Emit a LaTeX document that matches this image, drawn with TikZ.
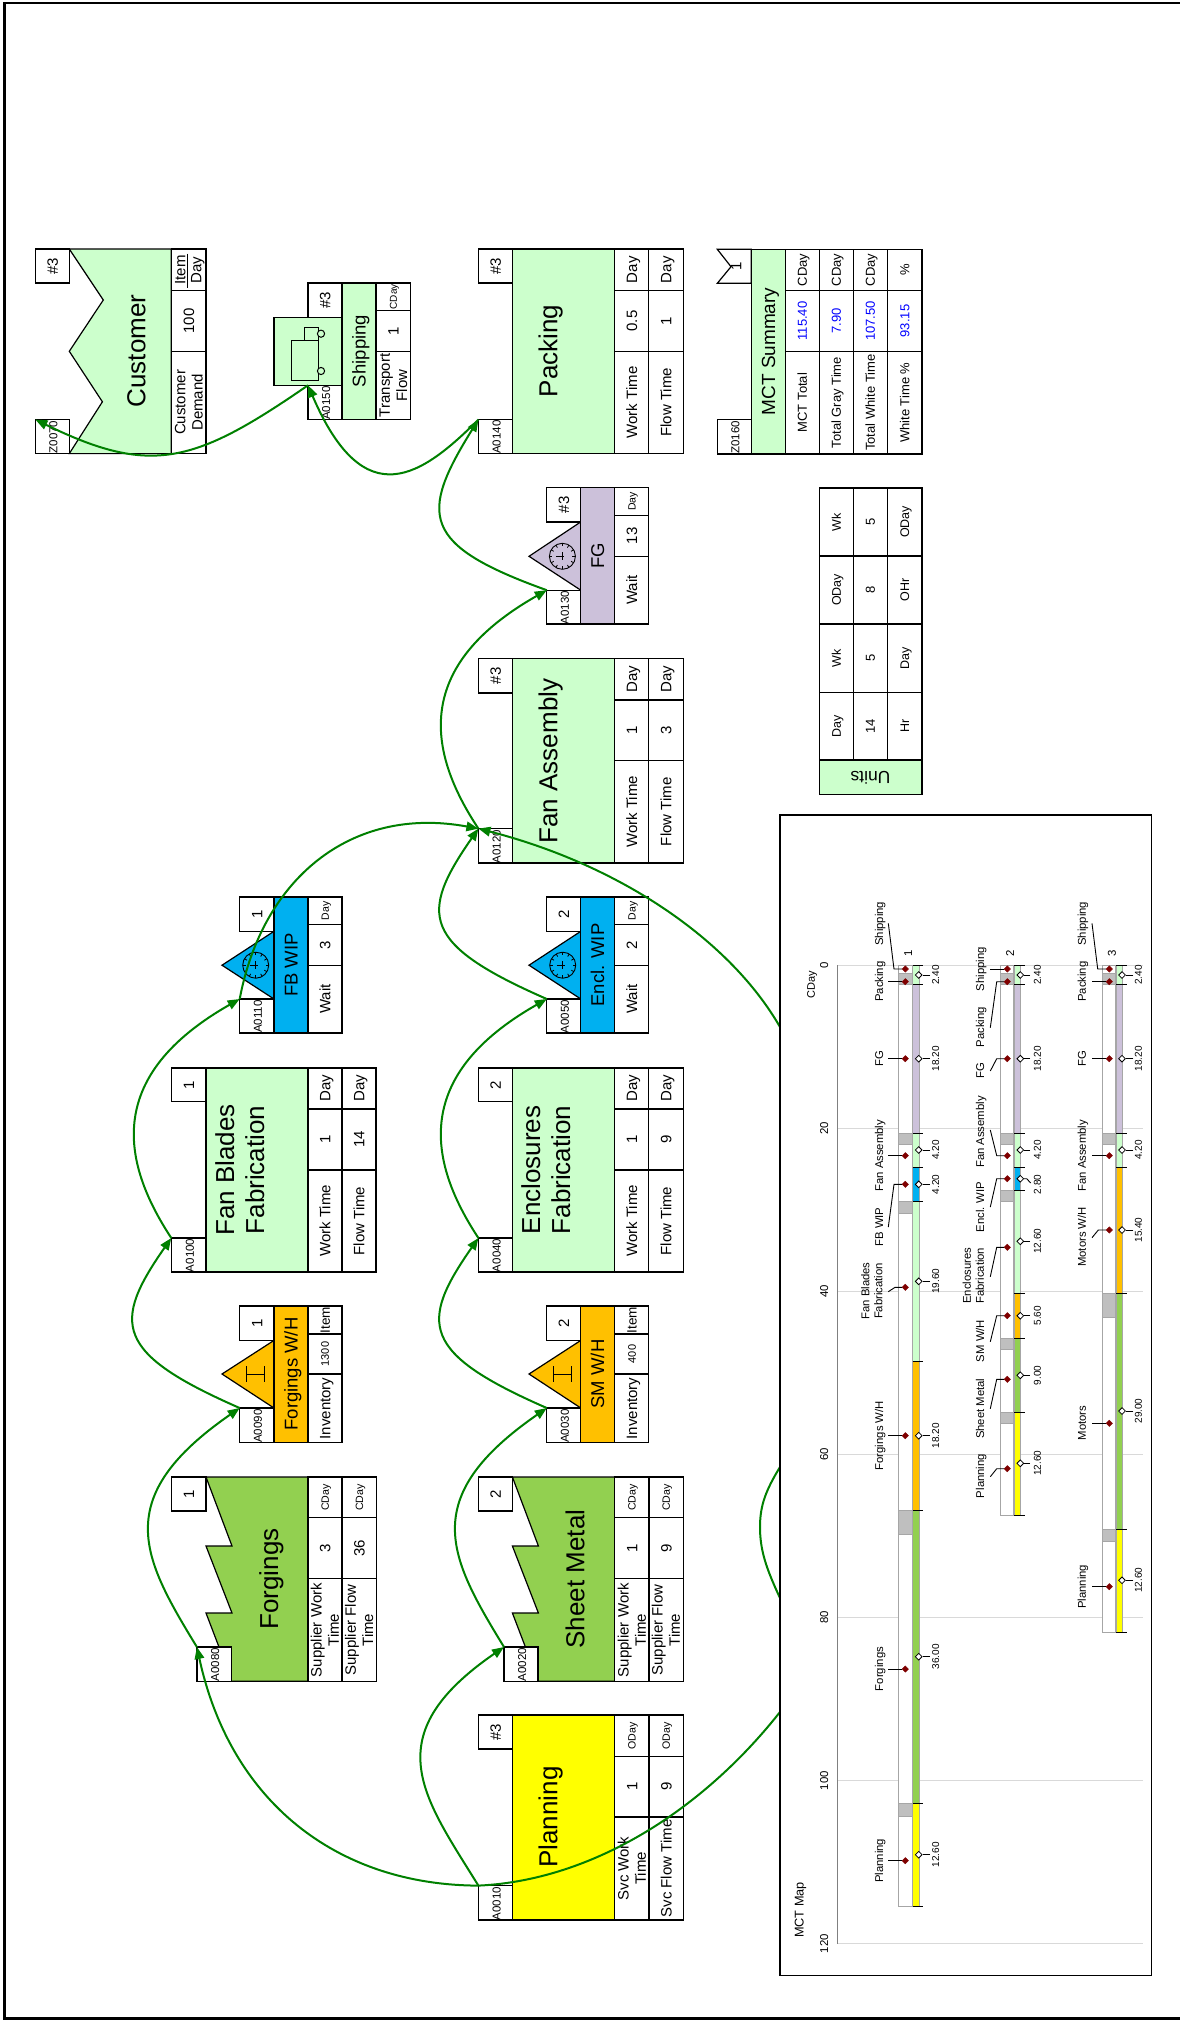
\documentclass[tikz,border=0pt]{standalone}
\usepackage{fontspec}
\setmainfont{Liberation Sans}
\usetikzlibrary{arrows.meta,shapes.geometric}
\definecolor{pgreen}{HTML}{CCFFCC}
\definecolor{fgreen}{HTML}{92D050}
\definecolor{mauve}{HTML}{CCC1DA}
\definecolor{wipblue}{HTML}{00B0F0}
\definecolor{whorange}{HTML}{FFC000}
\definecolor{planyellow}{HTML}{FFFF00}
\definecolor{flowgreen}{HTML}{008000}
\definecolor{dkred}{HTML}{7F0000}
\definecolor{gapgray}{HTML}{BFBFBF}
\definecolor{gridgray}{HTML}{D9D9D9}
\newcount\tc
\newcommand\Tick{\global\advance\tc by 1\relax}
\newcommand\Txt[5][]{\Tick\pgfmathsetmacro\hh{#4*0.72}\pgfmathsetmacro\ls{#4*1.15}%
  \node[rotate=90,inner sep=0pt,outer sep=0pt,text height=\hh pt,text depth=0pt,font=\fontsize{#4}{\ls}\selectfont,#1] (t\the\tc) at (#2,#3) {#5};}
\newcommand\Two[2]{\begin{tabular}[c]{@{}c@{}}#1\\#2\end{tabular}}
\newcommand\BoxN[6]{\pgfmathsetmacro\ww{#4-#2}\pgfmathsetmacro\hh{#5-#3}%
  \node[vbox,minimum width=\ww pt,minimum height=\hh pt,fill=#6] (#1) at ({(#2+#4)/2},{(#3+#5)/2}) {};}
\newcommand\Cell[6]{\Tick\BoxN{c\the\tc}{#1}{#2}{#3}{#4}{white}\Txt{{(#1+#3)/2}}{{(#2+#4)/2}}{#5}{#6}}
\newcommand\IdB[6]{\BoxN{#1}{#2}{#3}{#4}{#5}{white}\Txt{{(#2+#4)/2+1}}{{#5-16.5}}{11.5}{#6}}
\newcommand\Body[5]{\Tick\BoxN{b\the\tc}{#1}{#2}{#3}{#4}{#5}}
\newcommand\Tab[9]{\Cell{#1}{#3}{#2}{#4}{\sC}{#7}\Cell{#1}{#4}{#2}{#5}{\sB}{#8}\Cell{#1}{#5}{#2}{#6}{\sA}{#9}}
\newcommand\Tri[6]{\draw[shapeln,fill=#6] (#2,#4) -- (#1,#3) -- (#2,#5) -- cycle;}
\newcommand\Clock[2]{\draw[line width=.9pt] (#1,#2) circle[radius=13];
  \foreach \a in {0,30,...,330} {\draw[line width=.8pt] ([shift={(\a:13)}]#1,#2) -- ([shift={(\a:10)}]#1,#2);}
  \draw[line width=.9pt] ({#1-6},#2) -- ({#1+2},#2) (#1,{#2-4}) -- (#1,{#2+4});}
\newcommand\Beam[2]{\draw[line width=1pt] ({#1-9},#2) -- ({#1+9},#2) ({#1-9},{#2-8}) -- ({#1-9},{#2+8}) ({#1+9},{#2-8}) -- ({#1+9},{#2+8});}
\newcommand\DarkM[8]{\Tick\coordinate (e\the\tc) at (#4,#5);\coordinate (k\the\tc) at (#3,#2);
  \node[dkmark] (m\the\tc) at (#1,#2) {};\draw[leader] (e\the\tc) -- (k\the\tc) -- (m\the\tc);\Txt{#7}{#8}{11.3}{#6}}
\newcommand\WhiteM[8]{\Tick\coordinate (e\the\tc) at (#4,#5);\coordinate (k\the\tc) at (#3,#2);
  \node[whmark] (m\the\tc) at (#1,#2) {};\draw[leader] (e\the\tc) -- (k\the\tc) -- (m\the\tc);\Txt{#7}{#8}{10}{#6}}
\newcommand\YY[1]{{965+8.16*#1}}
\newcommand\Seg[5]{\draw[line width=1pt,draw=gray!70,fill=#5] (#1,\YY{#3}) rectangle (#2,\YY{#4});}
\begin{document}
\begin{tikzpicture}[x=1pt,y=-1pt,
  vbox/.style={draw=black,rectangle,inner sep=0pt,outer sep=0pt,line width=1.2pt},
  shapeln/.style={draw=black,line width=1.2pt,line join=miter},
  flowln/.style={draw=flowgreen,line width=2pt,-{Triangle[length=12pt,width=9.5pt]}},
  leader/.style={draw=black,line width=.9pt},
  dkmark/.style={diamond,draw=dkred,fill=dkred,minimum size=6.5pt,inner sep=0pt,line width=.4pt},
  whmark/.style={diamond,draw=black,fill=white,minimum size=7pt,inner sep=0pt,line width=.8pt}]
\useasboundingbox (0,0) rectangle (1180,2023);
\def\sA{15}\def\sB{15}\def\sC{15}
% frame
\draw[line width=2.6pt] (1190,3) -- (4.5,3) -- (4.5,2018.7) -- (1190,2018.7);
% ---------- Customer
\draw[shapeln,fill=pgreen] (69.3,249) -- (103.3,300) -- (69.3,351.3) -- (102.4,401.8) -- (69.3,453.6) -- (171.3,453.6) -- (171.3,249) -- cycle;
\Cell{35.4}{249}{69.3}{283}{15}{\#3}
\IdB{z0070}{35.4}{419.6}{69.3}{453.6}{Z0070}
\Txt{136}{351}{26}{Customer}
\Tab{171.3}{206}{249}{290.6}{351.3}{453.6}{}{100}{\Two{Customer}{Demand}}
\Txt{180}{270}{15}{Item}\Txt{196}{270}{15}{Day}
\coordinate (fa) at (187.8,253.6);\coordinate (fb) at (187.8,288);\draw[line width=1.2pt] (fa) -- (fb);
% ---------- Shipping
\Cell{308}{283}{342}{317.4}{15}{\#3}
\IdB{a0150}{308}{385.3}{342}{419.6}{A0150}
\Body{274}{317.4}{342}{385.3}{pgreen}
\draw[line width=1pt] (291.7,340.5) rectangle (318.7,380) (304.3,327.3) rectangle (318.7,340.5);
\draw[line width=1pt,fill=pgreen] (321,333.7) circle[radius=3.6] (321,371) circle[radius=3.6];
\Body{342}{283}{376}{419.6}{pgreen}
\Txt{359}{351}{18.5}{Shipping}
\def\sC{10}
\Tab{376}{410.5}{283}{310.7}{351.3}{419.6}{CDay}{1}{\Two{Transport}{Flow}}
\def\sC{15}
% ---------- Packing
\Body{512.4}{249}{614.8}{453.6}{pgreen}
\Cell{478.4}{249}{512.4}{283}{15}{\#3}
\IdB{a0140}{478.4}{419.6}{512.4}{453.6}{A0140}
\Txt{548}{351}{26}{Packing}
\Tab{614.8}{648.8}{249}{290.6}{351.3}{453.6}{Day}{0.5}{Work Time}
\Tab{648.8}{683.2}{249}{290.6}{351.3}{453.6}{Day}{1}{Flow Time}
% ---------- FG
\Tri{529}{580.8}{556.3}{521.9}{590.2}{mauve}
\Clock{562.4}{556.3}
\Cell{546.8}{487.5}{580.8}{521.9}{15}{\#3}
\IdB{a0130}{546.8}{590.2}{580.8}{624}{A0130}
\Body{580.8}{487.5}{614.8}{624}{mauve}
\Txt{597.5}{556}{18.5}{FG}
\def\sC{10.5}
\Tab{614.8}{648.8}{487.5}{515.6}{556.3}{624}{Day}{13}{Wait}
% ---------- Fan Assembly
\def\sC{15}
\Body{512.4}{658.5}{614.8}{863}{pgreen}
\Cell{478.4}{658.5}{512.4}{692.9}{15}{\#3}
\IdB{a0120}{478.4}{828.6}{512.4}{863}{A0120}
\Txt{548}{761}{26}{Fan Assembly}
\Tab{614.8}{648.8}{658.5}{700}{760.5}{863}{Day}{1}{Work Time}
\Tab{648.8}{683.2}{658.5}{700}{760.5}{863}{Day}{3}{Flow Time}
% ---------- FB WIP
\Tri{222}{274}{965.2}{931.3}{999}{wipblue}
\Clock{255.7}{965.2}
\Cell{239.7}{896.9}{274}{931.3}{15}{1}
\IdB{a0110}{239.7}{999}{274}{1033}{A0110}
\Body{274}{896.9}{308}{1033}{wipblue}
\Txt{291}{965}{18.5}{FB WIP}
\def\sC{10.5}
\Tab{308}{342}{896.9}{924.6}{965.2}{1033}{Day}{3}{Wait}
% ---------- Encl WIP
\Tri{529}{580.8}{965.2}{931.3}{999}{wipblue}
\Clock{562.7}{965.2}
\Cell{546.8}{896.9}{580.8}{931.3}{15}{2}
\IdB{a0050}{546.8}{999}{580.8}{1033}{A0050}
\Body{580.8}{896.9}{614.8}{1033}{wipblue}
\Txt{597.5}{965}{18.5}{Encl. WIP}
\Tab{614.8}{648.8}{896.9}{924.6}{965.2}{1033}{Day}{2}{Wait}
\def\sC{15}
% ---------- Fan Blades Fabrication
\Body{206}{1067.9}{308}{1271.9}{pgreen}
\Cell{171.3}{1067.9}{206}{1101.8}{15}{1}
\IdB{a0100}{171.3}{1238}{206}{1271.9}{A0100}
\Txt{240}{1170}{26}{\Two{Fan Blades}{Fabrication}}
\Tab{308}{342}{1067.9}{1109}{1170}{1271.9}{Day}{1}{Work Time}
\Tab{342}{376}{1067.9}{1109}{1170}{1271.9}{Day}{14}{Flow Time}
% ---------- Enclosures Fabrication
\Body{512.4}{1067.9}{614.8}{1271.9}{pgreen}
\Cell{478.4}{1067.9}{512.4}{1101.8}{15}{2}
\IdB{a0040}{478.4}{1238}{512.4}{1271.9}{A0040}
\Txt{546}{1170}{26}{\Two{Enclosures}{Fabrication}}
\Tab{614.8}{648.8}{1067.9}{1109}{1170}{1271.9}{Day}{1}{Work Time}
\Tab{648.8}{683.2}{1067.9}{1109}{1170}{1271.9}{Day}{9}{Flow Time}
% ---------- Forgings W/H
\Tri{222}{274}{1374}{1340.4}{1408}{whorange}
\Beam{255}{1374}
\Cell{239.7}{1306}{274}{1340.4}{15}{1}
\IdB{a0090}{239.7}{1408}{274}{1442.7}{A0090}
\Body{274}{1306}{308}{1442.7}{whorange}
\Txt{291}{1374}{18.5}{Forgings W/H}
\def\sB{11}\def\sC{13.5}
\Tab{308}{342}{1306}{1334}{1374}{1442.7}{Item}{1300}{Inventory}
% ---------- SM W/H
\Tri{529}{580.8}{1374}{1340.4}{1408}{whorange}
\Beam{562}{1374}
\Cell{546.8}{1306}{580.8}{1340.4}{15}{2}
\IdB{a0030}{546.8}{1408}{580.8}{1442.7}{A0030}
\Body{580.8}{1306}{614.8}{1442.7}{whorange}
\Txt{597.5}{1374}{18.5}{SM W/H}
\Tab{614.8}{648.8}{1306}{1334}{1374}{1442.7}{Item}{400}{Inventory}
\def\sB{15}\def\sC{10.6}
% ---------- Forgings
\draw[shapeln,fill=fgreen] (206,1477) -- (232,1546) -- (206,1546) -- (232,1613) -- (206,1613) -- (219,1647) -- (231.3,1647) -- (231.3,1681.3) -- (308,1681.3) -- (308,1477) -- cycle;
\Cell{171.6}{1477}{206}{1511}{15}{1}
\IdB{a0080}{196.9}{1647}{231.3}{1681.3}{A0080}
\Txt{268.7}{1579}{26}{Forgings}
\Tab{308}{342}{1477}{1517.8}{1578.8}{1681.3}{CDay}{3}{\Two{Supplier Work}{Time}}
\Tab{342}{376.4}{1477}{1517.8}{1578.8}{1681.3}{CDay}{36}{\Two{Supplier Flow}{Time}}
% ---------- Sheet Metal
\draw[shapeln,fill=fgreen] (512.4,1477) -- (538.4,1546) -- (512.4,1546) -- (538.4,1613) -- (512.4,1613) -- (525.4,1647) -- (538,1647) -- (538,1681.3) -- (614.8,1681.3) -- (614.8,1477) -- cycle;
\Cell{478.4}{1477}{512.4}{1511}{15}{2}
\IdB{a0020}{504}{1647}{538}{1681.3}{A0020}
\Txt{575}{1579}{26}{Sheet Metal}
\Tab{614.8}{649}{1477}{1517.8}{1578.8}{1681.3}{CDay}{1}{\Two{Supplier Work}{Time}}
\Tab{649}{683.2}{1477}{1517.8}{1578.8}{1681.3}{CDay}{9}{\Two{Supplier Flow}{Time}}
% ---------- Planning
\Body{512.4}{1715}{614.8}{1920}{planyellow}
\Cell{478.4}{1715}{512.4}{1749}{15}{\#3}
\IdB{a0010}{478.4}{1885.6}{512.4}{1920}{A0010}
\Txt{548}{1817}{26}{Planning}
\Tab{614.8}{649}{1715}{1756.4}{1817}{1920}{ODay}{1}{\Two{Svc Work}{Time}}
\Tab{649}{683.2}{1715}{1756.4}{1817}{1920}{ODay}{9}{Svc Flow Time}
\def\sC{15}
% ---------- flows
\draw[flowln] (a0010.north west) .. controls (423,1796) and (375,1736) .. (a0020.north west);
\draw[flowln] (a0010.north west) .. controls (335,1885) and (230,1800) .. (a0080.north west);
\draw[flowln] (a0020.north west) .. controls (449,1557) and (417,1498) .. (a0030.north west);
\draw[flowln] (a0080.north west) .. controls (142,1557) and (110,1498) .. (a0090.north west);
\draw[flowln] (a0030.north west) .. controls (421,1353) and (419,1323) .. (a0040.north west);
\draw[flowln] (a0090.north west) .. controls (114,1353) and (112,1323) .. (a0100.north west);
\draw[flowln] (a0040.north west) .. controls (427,1160) and (413,1075) .. (a0050.north west);
\draw[flowln] (a0100.north west) .. controls (120,1160) and (106,1075) .. (a0110.north west);
\draw[flowln] (a0050.north west) .. controls (421,944) and (419,914) .. (a0120.north west);
\draw[flowln] (a0110.north west) .. controls (262,880) and (350,805) .. (a0120.north west);
\draw[flowln] (a0120.north west) .. controls (427,751) and (413,666) .. (a0130.north west);
\draw[flowln] (a0130.north west) .. controls (421,545) and (419,515) .. (a0140.north west);
\draw[flowln] (a0140.north west) .. controls (421.9,476) and (364.5,516.8) .. (a0150.north west);
\draw[flowln] (a0150.north west) .. controls (194,464) and (151,476) .. (z0070.north west);
\draw[flowln] (a0010.north west) .. controls (600,1880) and (720,1800) .. (800,1685)
  .. controls (860,1640) and (800,1640) .. (780,1598)
  .. controls (766,1568) and (760,1550) .. (760,1527)
  .. controls (760,1505) and (766,1490) .. (780,1467)
  .. controls (860,1350) and (900,1180) .. (780,1027)
  .. controls (730,940) and (620,865) .. (a0120.north west);
% ---------- MCT Summary
\draw[shapeln,fill=white] (717.3,249.3) -- (731,266.7) -- (717.3,283.3) -- (751.3,283.3) -- (751.3,249.3) -- cycle;
\Txt{736}{266}{15}{1}
\IdB{z0160}{717.3}{419.3}{751.3}{454}{Z0160}
\Body{751.3}{249.3}{785.3}{454}{pgreen}
\Txt{768.3}{351.5}{19}{MCT Summary}
\def\sA{13}\def\sC{13}\def\sB{13}
\Tab{785.3}{819.3}{249.3}{290.7}{351.3}{454}{CDay}{\textcolor{blue}{115.40}}{MCT Total}
\Tab{819.3}{853.3}{249.3}{290.7}{351.3}{454}{CDay}{\textcolor{blue}{7.90}}{Total Gray Time}
\Tab{853.3}{887.3}{249.3}{290.7}{351.3}{454}{CDay}{\textcolor{blue}{107.50}}{Total White Time}
\Tab{887.3}{922}{249.3}{290.7}{351.3}{454}{\%}{\textcolor{blue}{93.15}}{White Time \%}
% ---------- Units
\Body{819.3}{760}{922}{794.7}{pgreen}
\Txt[rotate=90]{870.5}{777.5}{17.5}{Units}
\foreach \yt/\yb/\ua/\ub/\uc in {488/556/Wk/5/ODay,556/624/ODay/8/OHr,624/692.3/Wk/5/Day,692.3/760/Day/14/Hr}{
  \Cell{819.3}{\yt}{853.3}{\yb}{12.5}{\ua}
  \Cell{853.3}{\yt}{887.3}{\yb}{13}{\ub}
  \Cell{887.3}{\yt}{922}{\yb}{12.5}{\uc}
}
% ---------- MCT map
\Body{780}{815}{1151.7}{1975.7}{white}
\draw[gridgray,line width=1pt] (837.3,965) -- (1143,965) (837.3,1128.3) -- (1143,1128.3) (837.3,1291.5) -- (1143,1291.5) (837.3,1454.5) -- (1143,1454.5) (837.3,1617.5) -- (1143,1617.5) (837.3,1780.5) -- (1143,1780.5) (837.3,1943.7) -- (1143,1943.7);
\draw[gray,line width=1pt] (837.3,965) -- (837.3,1943.7);
\foreach \v/\yy in {0/965,20/1128.3,40/1291.5,60/1454.5,80/1617.5,100/1780.5,120/1943.7}{\Txt{824}{\yy}{11.4}{\v}}
\Txt{811}{985}{11}{CDay}
\Txt{799}{1910}{12.7}{MCT Map}
\Txt{908}{953.3}{11.4}{1}\Txt{1010}{953.3}{11.4}{2}\Txt{1111.7}{953.3}{11.4}{3}
% series 1
\Seg{898.3}{912}{0}{115.4}{white}
\foreach \a/\b in {1/2.4,20.6/22,29/30.4,66.8/69.8,102.8/104.3}{\Seg{898.3}{912}{\a}{\b}{gapgray}}
\foreach \a/\b/\c in {0/2.4/pgreen,2.4/20.6/mauve,20.6/24.8/pgreen,24.8/29/wipblue,29/48.6/pgreen,48.6/66.8/whorange,66.8/102.8/fgreen,102.8/115.4/planyellow}{\Seg{912.5}{919}{\a}{\b}{\c}}
\foreach \a in {0,2.4,20.6,24.8,29,48.6,66.8,102.8,115.4}{\draw[line width=1pt] (912.5,\YY{\a}) -- (923.3,\YY{\a});}
% series 2
\Seg{1000.3}{1013.3}{0}{67.4}{white}
\foreach \a/\b in {1/2.4,20.6/22,27.6/29,45.8/47.1,54.8/56.2}{\Seg{1000.3}{1013.3}{\a}{\b}{gapgray}}
\foreach \a/\b/\c in {0/2.4/pgreen,2.4/20.6/mauve,20.6/24.8/pgreen,24.8/27.6/wipblue,27.6/40.2/pgreen,40.2/45.8/whorange,45.8/54.8/fgreen,54.8/67.4/planyellow}{\Seg{1014}{1020.3}{\a}{\b}{\c}}
\foreach \a in {0,2.4,20.6,24.8,27.6,40.2,45.8,54.8,67.4}{\draw[line width=1pt] (1014,\YY{\a}) -- (1025,\YY{\a});}
% series 3
\Seg{1102}{1115.7}{0}{81.8}{white}
\foreach \a/\b in {1/2.4,20.6/22,40.2/43.2,69.2/70.6}{\Seg{1102}{1115.7}{\a}{\b}{gapgray}}
\foreach \a/\b/\c in {0/2.4/pgreen,2.4/20.6/mauve,20.6/24.8/pgreen,24.8/40.2/whorange,40.2/69.2/fgreen,69.2/81.8/planyellow}{\Seg{1116}{1122.3}{\a}{\b}{\c}}
\foreach \a in {0,2.4,20.6,24.8,40.2,69.2,81.8}{\draw[line width=1pt] (1116,\YY{\a}) -- (1126.7,\YY{\a});}
% labels series 1
\DarkM{905.3}{969}{894}{888.3}{923.3}{Shipping}{879}{923.7}
\DarkM{905.3}{981.7}{888.3}{888.3}{981.7}{Packing}{879}{981.7}
\DarkM{905.3}{1058.7}{888.3}{888.3}{1058.7}{FG}{879}{1058.7}
\DarkM{905.3}{1155.7}{888.3}{888.3}{1155.7}{Fan Assembly}{879}{1155.7}
\DarkM{905.3}{1184.3}{894}{888.3}{1227}{FB WIP}{879}{1227}
\DarkM{905.3}{1287.3}{895}{888.3}{1291.7}{\Two{Fan Blades}{Fabrication}}{872}{1291}
\DarkM{905.3}{1435.7}{888.3}{888.3}{1435.7}{Forgings W/H}{879}{1435.7}
\DarkM{905.3}{1669}{888.3}{888.3}{1669}{Forgings}{879}{1669}
\DarkM{905.3}{1860.7}{888.3}{888.3}{1860.7}{Planning}{879}{1860.7}
\WhiteM{918.7}{975}{930}{930}{975}{2.40}{935.5}{975}
\WhiteM{918.7}{1058.7}{930}{930}{1058.7}{18.20}{935.5}{1058.7}
\WhiteM{918.7}{1150}{930}{930}{1150}{4.20}{935.5}{1150}
\WhiteM{918.7}{1184.3}{930}{930}{1184.3}{4.20}{935.5}{1184.3}
\WhiteM{918.7}{1281.3}{930}{930}{1281.3}{19.60}{935.5}{1281.3}
\WhiteM{918.7}{1435.7}{930}{930}{1435.7}{18.20}{935.5}{1435.7}
\WhiteM{918.7}{1656.7}{930}{930}{1656.7}{36.00}{935.5}{1656.7}
\WhiteM{918.7}{1854.7}{930}{930}{1854.7}{12.60}{935.5}{1854.7}
% labels series 2
\DarkM{1007.3}{969}{990.3}{990.3}{969}{Shipping}{980}{969}
\DarkM{1007.3}{981.7}{996.7}{990.3}{1027.7}{Packing}{980}{1027.3}
\DarkM{1007.3}{1058.7}{996.7}{990.3}{1071}{FG}{980}{1071}
\DarkM{1007.3}{1155.7}{996.7}{990.3}{1130}{Fan Assembly}{980}{1132}
\DarkM{1007.3}{1178.7}{996.7}{990.3}{1207}{Encl. WIP}{980}{1207}
\DarkM{1007.3}{1247.3}{996.7}{990.3}{1276.7}{\Two{Enclosures}{Fabrication}}{973.5}{1275.7}
\DarkM{1007.3}{1315.7}{996.7}{990.3}{1341.7}{SM W/H}{980}{1341}
\DarkM{1007.3}{1379.3}{996.7}{990.3}{1408.7}{Sheet Metal}{980}{1408.7}
\DarkM{1007.3}{1468.7}{996.7}{990.3}{1476.7}{Planning}{980}{1476}
\WhiteM{1020.3}{975}{1030}{1030}{975}{2.40}{1037.3}{975}
\WhiteM{1020.3}{1058.7}{1030}{1030}{1058.7}{18.20}{1037.3}{1058.7}
\WhiteM{1020.3}{1150}{1030}{1030}{1150}{4.20}{1037.3}{1150}
\WhiteM{1020.3}{1178.7}{1026.7}{1030.7}{1183}{2.80}{1037.3}{1184.3}
\WhiteM{1020.3}{1241.3}{1030}{1030}{1241.3}{12.60}{1037.3}{1241.3}
\WhiteM{1020.3}{1315.7}{1030}{1030}{1315.7}{5.60}{1037.3}{1315.7}
\WhiteM{1020.3}{1375.3}{1030}{1030}{1375.3}{9.00}{1037.3}{1375.3}
\WhiteM{1020.3}{1463.3}{1030}{1030}{1463.3}{12.60}{1037.3}{1463.3}
% labels series 3
\DarkM{1109.3}{969}{1097.7}{1092}{923.3}{Shipping}{1081.7}{923.7}
\DarkM{1109.3}{981.7}{1092}{1092}{981.7}{Packing}{1081.7}{981.7}
\DarkM{1109.3}{1058.7}{1092}{1092}{1058.7}{FG}{1081.7}{1058.7}
\DarkM{1109.3}{1155.7}{1092}{1092}{1155.7}{Fan Assembly}{1081.7}{1155.7}
\DarkM{1109.3}{1230}{1098.3}{1092}{1237.7}{Motors W/H}{1081.7}{1237}
\DarkM{1109.3}{1423.3}{1092}{1092}{1423.3}{Motors}{1081.7}{1423}
\DarkM{1109.3}{1586.7}{1092}{1092}{1586.7}{Planning}{1081.7}{1586.7}
\WhiteM{1122}{975}{1133.3}{1133.3}{975}{2.40}{1138.3}{975}
\WhiteM{1122}{1058.7}{1133.3}{1133.3}{1058.7}{18.20}{1138.3}{1058.7}
\WhiteM{1122}{1150}{1133.3}{1133.3}{1150}{4.20}{1138.3}{1150}
\WhiteM{1122}{1230}{1133.3}{1133.3}{1230}{15.40}{1138.3}{1230}
\WhiteM{1122}{1411}{1133.3}{1133.3}{1411}{29.00}{1138.3}{1411}
\WhiteM{1122}{1580.3}{1133.3}{1133.3}{1580.3}{12.60}{1138.3}{1580.3}
\end{tikzpicture}
\end{document}
